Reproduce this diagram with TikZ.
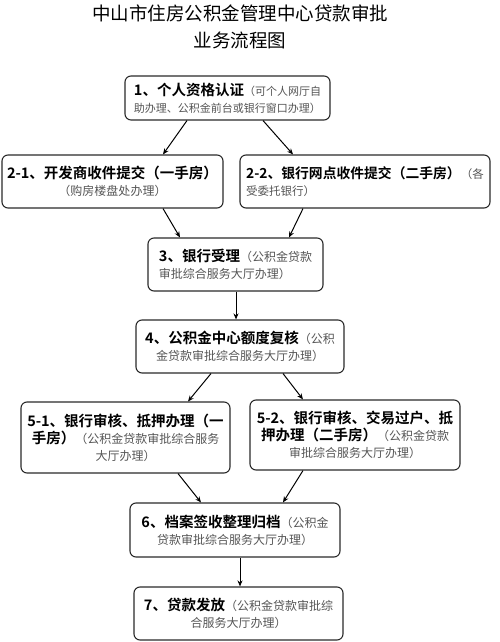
\documentclass[tikz,border=0pt]{standalone}
\usepackage{fontspec}
\setmainfont{Noto Sans CJK SC}[BoldFont={Noto Sans CJK SC Bold}]
\usetikzlibrary{arrows.meta}
\definecolor{notegray}{HTML}{555555}
\definecolor{linegray}{HTML}{2A2A2A}
\newcommand{\stp}[2][14.5]{{\bfseries\fontsize{#1}{17}\selectfont #2}}
\newcommand{\nte}[2][12]{{\color{notegray}\fontsize{#1}{17}\selectfont #2}}

\begin{document}
\begin{tikzpicture}[x=1pt, y=1pt, inner sep=0pt, line width=1.1pt,
		stepbox/.style={draw=linegray, rounded corners=6pt, font=\fontsize{12}{17}\selectfont},
		flow/.style={draw=black, line width=1pt, -{Stealth[length=6pt, width=5pt]}}]
		\useasboundingbox (0, 0) rectangle (500, 642);
			\node (title1) at (240, 629) {\fontsize{18.5}{22}\selectfont 中山市住房公积金管理中心贷款审批};
			\node (title2) at (240, 602) {\fontsize{18.5}{22}\selectfont 业务流程图};
	
			\node[stepbox, minimum width=205, minimum height=44, align=left] (auth) at (227.5, 544) {\stp{1、个人资格认证}\nte[11]{（可个人网厅自}\\\nte[11]{助办理、公积金前台或银行窗口办理）}};
			\node[stepbox, minimum width=221, minimum height=53, align=center] (devsubmit) at (112.5, 460.5) {\stp{2-1、开发商收件提交（一手房）}\\\nte{（购房楼盘处办理）}};
			\node[stepbox, minimum width=250, minimum height=53, align=left] (banksubmit) at (365, 460.5) {\stp[13.8]{2-2、银行网点收件提交（二手房）}\nte[11.5]{（各}\\\nte[11.5]{受委托银行）}};
			\node[stepbox, minimum width=175, minimum height=53, align=left] (accept) at (235.5, 377.5) {\stp{3、银行受理}\nte{（公积金贷款}\\\nte{审批综合服务大厅办理）}};
			\node[stepbox, minimum width=208, minimum height=53, align=center] (review) at (240, 295.5) {\stp{4、公积金中心额度复核}\nte{（公积}\\\nte{金贷款审批综合服务大厅办理）}};
			\node[stepbox, minimum width=209, minimum height=71, align=center] (mortnew) at (125.5, 204.5) {\stp{5-1、银行审核、抵押办理（一}\\\stp{手房）}\nte{（公积金贷款审批综合服务}\\\nte{大厅办理）}};
			\node[stepbox, minimum width=210, minimum height=70, align=center] (mortold) at (355, 207) {\stp{5-2、银行审核、交易过户、抵}\\\stp{押办理（二手房）}\nte{（公积金贷款}\\\nte{审批综合服务大厅办理）}};
			\node[stepbox, minimum width=210, minimum height=54, align=center] (archive) at (235, 112) {\stp{6、档案签收整理归档}\nte{（公积金}\\\nte{贷款审批综合服务大厅办理）}};
			\node[stepbox, minimum width=209, minimum height=53, align=center] (release) at (238.5, 28.5) {\stp{7、贷款发放}\nte{（公积金贷款审批综}\\\nte{合服务大厅办理）}};
	
			\draw[flow] ([xshift=-40.5]auth.south) -- ([xshift=50.5]devsubmit.north);
			\draw[flow] ([xshift=35.5]auth.south) -- ([xshift=-72]banksubmit.north);
			\draw[flow] ([xshift=50.5]devsubmit.south) -- ([xshift=-55.5]accept.north);
			\draw[flow] ([xshift=-62]banksubmit.south) -- ([xshift=53.5]accept.north);
			\draw[flow] ([xshift=0.5]accept.south) -- ([xshift=-4]review.north);
			\draw[flow] ([xshift=-29]review.south) -- ([xshift=62.5]mortnew.north);
			\draw[flow] ([xshift=43]review.south) -- ([xshift=-52]mortold.north);
			\draw[flow] ([xshift=52.5]mortnew.south) -- ([xshift=-34]archive.north);
			\draw[flow] ([xshift=-52]mortold.south) -- ([xshift=48]archive.north);
			\draw[flow] ([xshift=5]archive.south) -- ([xshift=1.5]release.north);
		\end{tikzpicture}
\end{document}
